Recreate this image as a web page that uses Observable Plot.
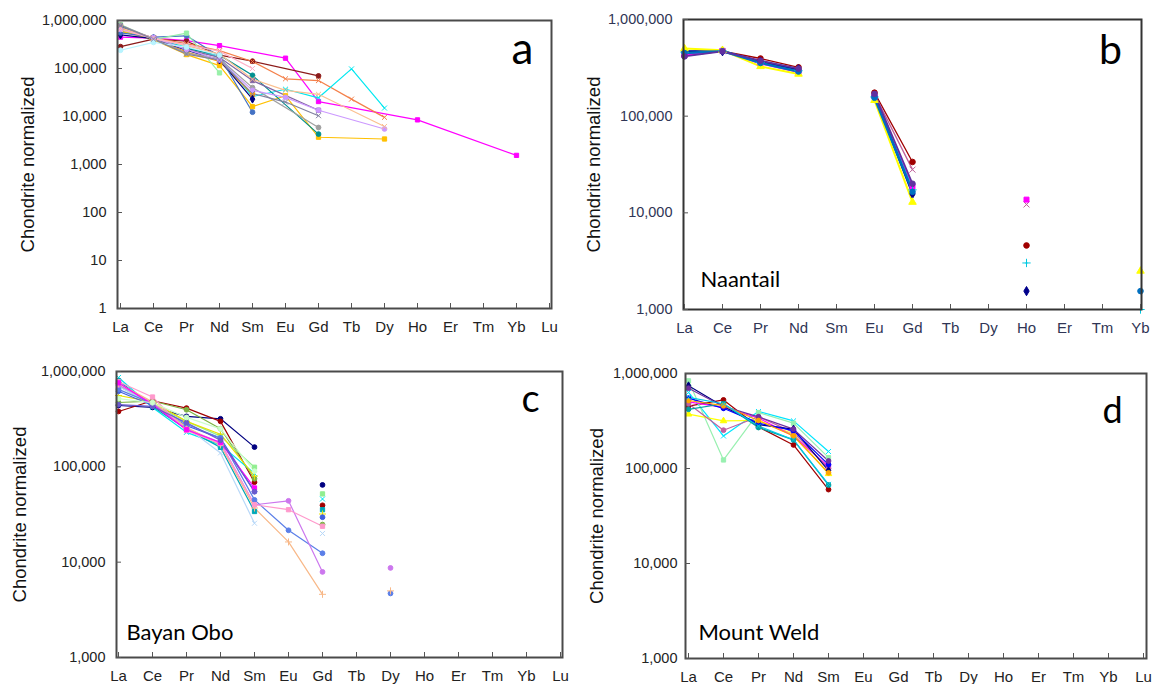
<!DOCTYPE html>
<html><head><meta charset="utf-8">
<script src="https://cdn.jsdelivr.net/npm/d3@7"></script>
<script src="https://cdn.jsdelivr.net/npm/@observablehq/plot@0.6"></script>
<style>
body{margin:0;background:#fff;}
#wrap{position:relative;width:1153px;height:684px;overflow:hidden;background:#fff;}
#wrap > svg{position:absolute;}
</style></head><body><div id="wrap"></div>
<script>
const n = null;
const REE14 = ["La","Ce","Pr","Nd","Sm","Eu","Gd","Tb","Dy","Ho","Er","Tm","Yb","Lu"];
const REE13 = REE14.slice(0, 13);
const yTicksA = [1, 10, 100, 1000, 10000, 100000, 1000000];
const yTicksB = [1000, 10000, 100000, 1000000];

// Panel a
const aColors = ["#ff00ff","#8b1a1a","#f4804a","#00e8f0","#ffc000","#ff9a00","#000080","#4472c4","#98f0a8","#009090","#a0a0a0","#8064a2","#cc99ff","#fbc090","#ffb0c8","#b8f4ff","#8080a0"];
const aSymbols = ["square","circle","times","times","square","square","diamond","circle","square","circle","circle","square","circle","times","times","circle","times"];
const aValues = [
  [450000, 430000, 380000, 300000, n, 164000, 20500, n, n, 8500, n, n, 1550],
  [285000, 410000, 370000, 190000, 142000, n, 70000],
  [720000, 430000, 330000, 235000, 140000, 61000, 56000, 23000, 9600],
  [600000, 420000, 280000, 170000, 26000, 37000, 24500, 98000, 15000],
  [600000, 400000, 195000, 115000, 16000, 27000, 3700, n, 3400],
  [650000, 420000, 220000, 140000, 29000],
  [500000, 420000, 240000, 150000, 23000],
  [550000, 450000, 480000, 180000, 12300],
  [820000, 400000, 545000, 81000],
  [750000, 420000, 260000, 190000, 72000, n, 4300],
  [800000, 420000, 210000, 160000, 40000, n, 5900],
  [700000, 430000, 250000, 170000, 56000, n, 13500],
  [650000, 440000, 250000, 150000, 35000, 25000, 13500, n, 5500],
  [700000, 430000, 300000, 200000, 60000, 35000, 29000, n, 6200],
  [650000, 420000, 310000, 230000, 100000],
  [240000, 350000, 280000, 190000],
  [780000, 410000, 200000, 150000, 30000, 20000, 10400]
];

// Panel b (Naantail)
const bColors = ["#a00000","#c0609a","#ff00ff","#00c8e0","#00008b","#ffff00","#0070c0","#6030a0"];
const bSymbols = ["circle","times","square","plus","diamond","triangle","circle","circle"];
const bWidths = [1.3, 1.3, 1.8, 2, 2, 2, 2.4, 1.8];
const bValues = [
  [420000, 470000, 395000, 320000, n, 175000, 33600, n, n, 4600],
  [440000, 470000, 370000, 300000, n, 168000, 28000, n, n, 12200],
  [430000, 475000, 350000, 285000, n, 160000, 18700, n, n, 13700],
  [460000, 475000, 360000, 295000, n, 158000, 17300, n, n, 3030, n, n, 1000],
  [470000, 470000, 365000, 305000, n, 162000, 15700, n, n, 1550],
  [500000, 480000, 327000, 273000, n, 146000, 12900, n, n, n, n, n, 2500],
  [450000, 470000, 355000, 290000, n, 155000, 16500, n, n, n, n, n, 1550],
  [415000, 468000, 375000, 310000, n, 170000, 20000]
];

// Panel c (Bayan Obo)
const cColors = ["#000080","#a00000","#7cb342","#90ee90","#00e5ee","#00a8b8","#e8e000","#4060e0","#b8d8f8","#5b7fe8","#cc77ee","#f8b888","#ff99cc","#ff00ff","#6a5acd","#ccffcc"];
const cSymbols = ["circle","circle","circle","square","times","square","plus","circle","times","circle","circle","plus","square","square","circle","circle"];
const cValues = [
  [440000, 420000, 338000, 319000, 161000, n, 64600],
  [381000, 493000, 413000, 300000, 69000, n, 39500],
  [473000, 490000, 397000, 251000, 75000, n, 24800],
  [700000, 450000, 300000, 210000, 99000, n, 52000],
  [865000, 420000, 230000, 170000, 85000, n, 46000],
  [800000, 430000, 250000, 160000, 34000, n, 35500],
  [560000, 480000, 300000, 220000, 80000, n, 32000],
  [620000, 440000, 270000, 200000, 55000, n, 29600],
  [700000, 450000, 260000, 140000, 25600, n, 20000],
  [650000, 460000, 280000, 200000, 45000, 21600, 12400, n, 4700],
  [720000, 470000, 250000, 180000, 40000, 44000, 7900, n, 8700],
  [750000, 480000, 260000, 170000, 37000, 16300, 4600, n, 5000],
  [780000, 540000, 240000, 175000, 40000, 35500, 23800],
  [760000, 450000, 245000, 180000, 60000],
  [450000, 430000, 290000, 190000, 55000],
  [520000, 470000, 330000, 250000, 90000]
];

// Panel d (Mount Weld)
const dColors = ["#a00000","#00e5ff","#98f0b0","#ffff00","#ff00ff","#c060a0","#000080","#0000ff","#00a0a0","#7030a0","#ffa500","#00c8e8"];
const dSymbols = ["circle","times","square","triangle","square","circle","diamond","circle","circle","circle","circle","times"];
const dValues = [
  [453000, 527000, 274000, 177000, 60000],
  [631000, 220000, 398000, 317000, 151000],
  [837000, 123000, 388000, 300000, 130000],
  [373000, 317000, 320000, 230000, 88000],
  [503000, 440000, 340000, 220000, 105000],
  [480000, 253000, 350000, 240000, 100000],
  [742000, 450000, 290000, 260000, 95000],
  [550000, 430000, 300000, 250000, 110000],
  [420000, 480000, 270000, 200000, 67000],
  [700000, 450000, 350000, 260000, 120000],
  [520000, 460000, 320000, 220000, 90000],
  [560000, 480000, 280000, 200000, 68000]
];

const fmt = d3.format(",");

function panel(o) {
  const rows = [];
  o.values.forEach((vals, i) => {
    o.cats.forEach((el, j) => {
      const v = vals[j];
      if (v == null && o.connect) return;
      rows.push({s: i, el, v: v == null ? NaN : v, c: o.colors[i], sym: o.symbols[i], w: o.widths ? o.widths[i] : 1.2});
    });
  });
  const pts = rows.filter(d => !isNaN(d.v));
  const txt = o.textColor || "#222";
  const svg = Plot.plot({
    width: o.width, height: o.height,
    marginLeft: o.ml, marginRight: o.mr, marginTop: o.mt, marginBottom: o.mb,
    style: {fontFamily: "'Liberation Sans', Arial, sans-serif", fontSize: "14px", background: "transparent", overflow: "visible"},
    x: {type: "point", domain: o.cats, padding: 0},
    y: {type: "log", domain: o.ydomain},
    color: {type: "identity"},
    symbol: {type: "identity"},
    marks: [
      Plot.line(rows, {x: "el", y: "v", z: "s", stroke: "c", strokeWidth: "w", strokeLinejoin: "round"}),
      Plot.dot(pts, {x: "el", y: "v", symbol: "sym", fill: "c", stroke: "c", r: o.r || 2.4, strokeWidth: 1}),
      Plot.frame({stroke: o.frameColor || "#4a4a4a", strokeWidth: 2}),
      Plot.axisY({ticks: o.yticks, tickFormat: fmt, tickSize: 5, dx: 5, tickPadding: o.ypad, fontSize: 14.5, label: null, color: txt, stroke: "#555"}),
      Plot.axisX({ticks: o.cats, tickSize: 5, dy: -5, tickPadding: 13, fontSize: 15, label: null, color: txt, stroke: "#555"}),
      Plot.text(["Chondrite normalized"], {frameAnchor: "left", rotate: -90, dx: o.labDx, fontSize: 18.5, textAnchor: "middle", lineAnchor: "middle", fill: "#111"}),
      Plot.text([o.letter], {frameAnchor: "top-right", dx: o.letDx, dy: o.letDy, fontSize: o.letSize, fontFamily: "Lato", textAnchor: "middle", lineAnchor: "bottom", fill: "#000"}),
      o.name ? Plot.text([o.name], {frameAnchor: "bottom-left", dx: o.nameDx, dy: o.nameDy, fontSize: 22, fontFamily: "Lato", textAnchor: "start", lineAnchor: "middle", fill: "#000"}) : null
    ]
  });
  svg.style.left = o.left + "px";
  svg.style.top = o.top + "px";
  return svg;
}

const wrap = document.getElementById("wrap");
wrap.appendChild(panel({
  cats: REE14, values: aValues, colors: aColors, symbols: aSymbols, connect: true,
  ydomain: [1, 1000000], yticks: yTicksA,
  left: 0, top: 0, width: 576, height: 340, ml: 117, mr: 25, mt: 20, mb: 32,
  ypad: 11, labDx: -89.5, letter: "a", letDx: -29, letDy: 43, letSize: 44
}));
wrap.appendChild(panel({
  cats: REE13, values: bValues, colors: bColors, symbols: bSymbols, widths: bWidths, connect: false,
  ydomain: [1000, 1000000], yticks: yTicksB, textColor: "#2f3555", frameColor: "#333",
  left: 576, top: 0, width: 577, height: 340, ml: 107, mr: 12, mt: 19, mb: 31,
  ypad: 11, labDx: -89.4, letter: "b", letDx: -31, letDy: 44, letSize: 41,
  name: "Naantail", nameDx: 17, nameDy: -30, r: 2.8
}));
wrap.appendChild(panel({
  cats: REE14, values: cValues, colors: cColors, symbols: cSymbols, connect: false,
  ydomain: [1000, 1000000], yticks: yTicksB,
  left: 0, top: 342, width: 576, height: 342, ml: 116, mr: 14, mt: 29, mb: 27,
  ypad: 11, labDx: -96, letter: "c", letDx: -32, letDy: 40, letSize: 38,
  name: "Bayan Obo", nameDx: 10, nameDy: -25
}));
wrap.appendChild(panel({
  cats: REE14, values: dValues, colors: dColors, symbols: dSymbols, connect: false,
  ydomain: [1000, 1000000], yticks: yTicksB,
  left: 576, top: 342, width: 577, height: 342, ml: 109, mr: 7, mt: 31, mb: 26,
  ypad: 8, labDx: -88, letter: "d", letDx: -34, letDy: 49, letSize: 36,
  name: "Mount Weld", nameDx: 13, nameDy: -26
}));
</script></body></html>
